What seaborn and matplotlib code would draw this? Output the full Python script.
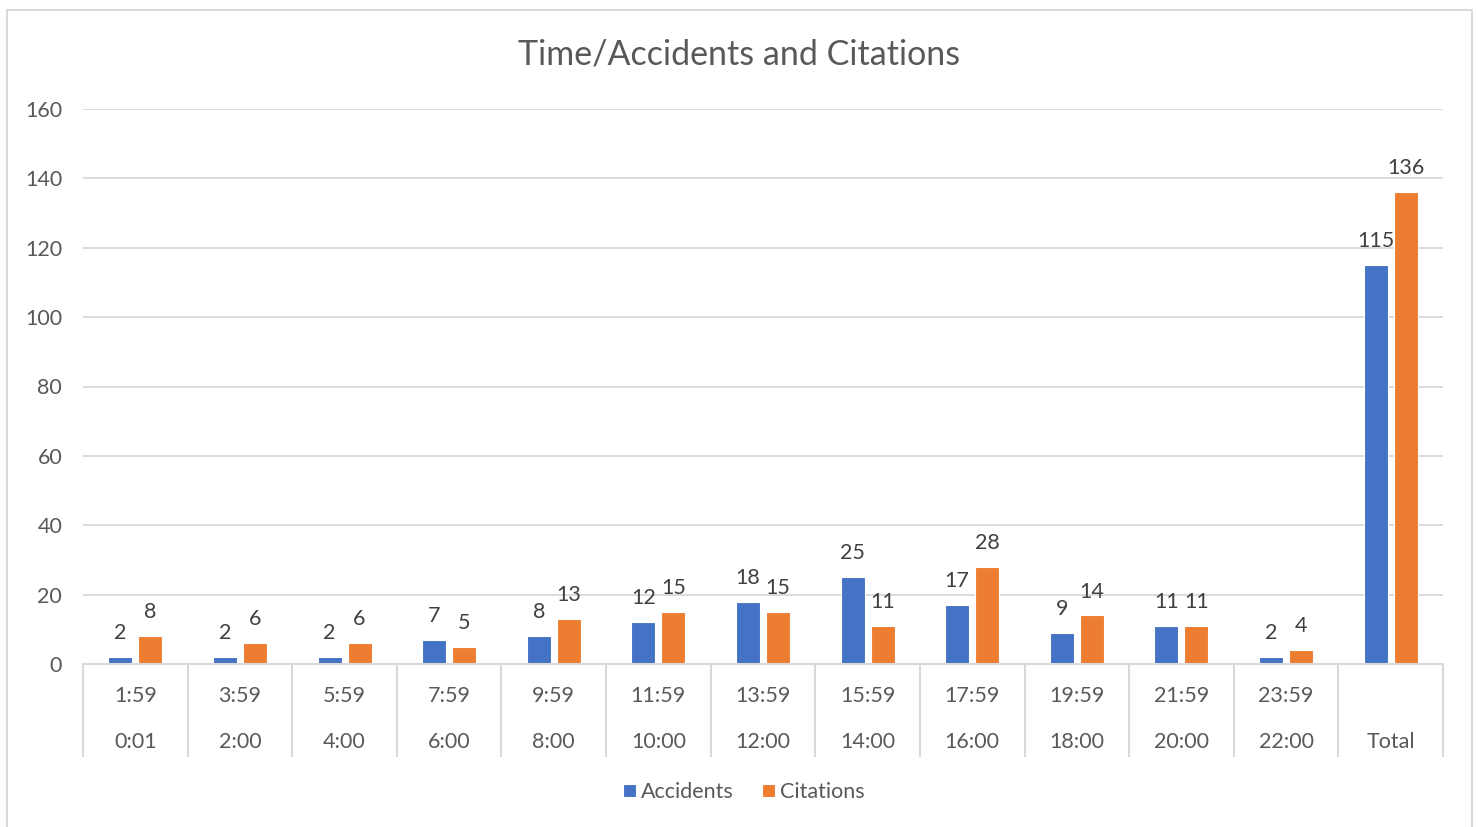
import matplotlib
matplotlib.use("Agg")
import matplotlib.pyplot as plt
import seaborn as sns
import pandas as pd
from matplotlib.patches import Rectangle

# ---- data ----
top_labels = ["1:59", "3:59", "5:59", "7:59", "9:59", "11:59", "13:59",
              "15:59", "17:59", "19:59", "21:59", "23:59", ""]
bottom_labels = ["0:01", "2:00", "4:00", "6:00", "8:00", "10:00", "12:00",
                 "14:00", "16:00", "18:00", "20:00", "22:00", "Total"]
categories = [f"{b}-{t}" if t else b for t, b in zip(top_labels, bottom_labels)]
accidents = [2, 2, 2, 7, 8, 12, 18, 25, 17, 9, 11, 2, 115]
citations = [8, 6, 6, 5, 13, 15, 15, 11, 28, 14, 11, 4, 136]
series_names = ["Accidents", "Citations"]
y_ticks = [0, 20, 40, 60, 80, 100, 120, 140, 160]
title = "Time/Accidents and Citations"

df = pd.DataFrame({
    "category": categories * 2,
    "series": [series_names[0]] * len(categories) + [series_names[1]] * len(categories),
    "value": accidents + citations,
})

# ---- style ----
sns.set_theme(style="white")
plt.rcParams["font.family"] = ["Lato", "DejaVu Sans"]
TXT = "#595959"
GRID = "#D9D9D9"
palette = {"Accidents": "#4472C4", "Citations": "#ED7D31"}
FS = 15.5

W, H = 1478, 827
fig = plt.figure(figsize=(W / 100, H / 100), dpi=100)
ax = fig.add_axes([83 / W, 1 - 664 / H, (1443 - 83) / W, (664 - 109) / H])

sns.barplot(data=df, x="category", y="value", hue="series", order=categories,
            hue_order=series_names, palette=palette, saturation=1,
            width=0.5736, gap=0.2, edgecolor="white", linewidth=0.8,
            ax=ax, legend=True)

ax.set_ylim(0, 160)
ax.set_xlim(-0.5, len(categories) - 0.5)
ax.set_yticks(y_ticks)
ax.set_yticklabels([str(v) for v in y_ticks])
ax.yaxis.grid(True, color=GRID, linewidth=1.3)
ax.set_axisbelow(True)
for s in ["top", "right", "left"]:
    ax.spines[s].set_visible(False)
ax.spines["bottom"].set_color(GRID)
ax.spines["bottom"].set_linewidth(1.5)
ax.set_xlabel("")
ax.set_ylabel("")
ax.tick_params(axis="y", length=0, pad=15, labelsize=FS, labelcolor=TXT)

# category separators via minor ticks
ax.set_xticks([i - 0.5 for i in range(len(categories) + 1)], minor=True)
ax.set_xticks(range(len(categories)))
ax.set_xticklabels([""] * len(categories))
ax.tick_params(axis="x", which="major", length=0, bottom=False)
ax.tick_params(axis="x", which="minor", bottom=True, length=93 * 0.72,
               width=1.5, color=GRID, direction="out")

# two-row category labels
for i, (t, b) in enumerate(zip(top_labels, bottom_labels)):
    if t:
        ax.annotate(t, xy=(i, 0), xycoords=("data", "axes fraction"),
                    xytext=(0, -32 * 0.72), textcoords="offset points",
                    ha="center", va="center", fontsize=FS, color=TXT)
    ax.annotate(b, xy=(i, 0), xycoords=("data", "axes fraction"),
                xytext=(0, -78 * 0.72), textcoords="offset points",
                ha="center", va="center", fontsize=FS, color=TXT)

# data labels
for cont in ax.containers:
    ax.bar_label(cont, fmt="%g", padding=10, fontsize=FS, color="#404040")

# legend
handles, labels = ax.get_legend_handles_labels()
ax.legend_.remove()
fig.legend(handles, labels, loc="center", bbox_to_anchor=(744 / W, 1 - 792 / H),
           ncol=2, frameon=False, fontsize=FS, labelcolor=TXT,
           handlelength=0.6, handleheight=0.6, handletextpad=0.25,
           columnspacing=1.3)

fig.text(739 / W, 1 - 54 / H, title, ha="center", va="center",
         fontsize=24.5, color=TXT)

# outer chart border
fig.patches.append(Rectangle((7 / W, -0.02), (1472 - 7) / W, 1 - 10 / H + 0.02,
                             transform=fig.transFigure, fill=False,
                             edgecolor=GRID, linewidth=1.5))

fig.savefig("out.png", dpi=100, facecolor="white")
